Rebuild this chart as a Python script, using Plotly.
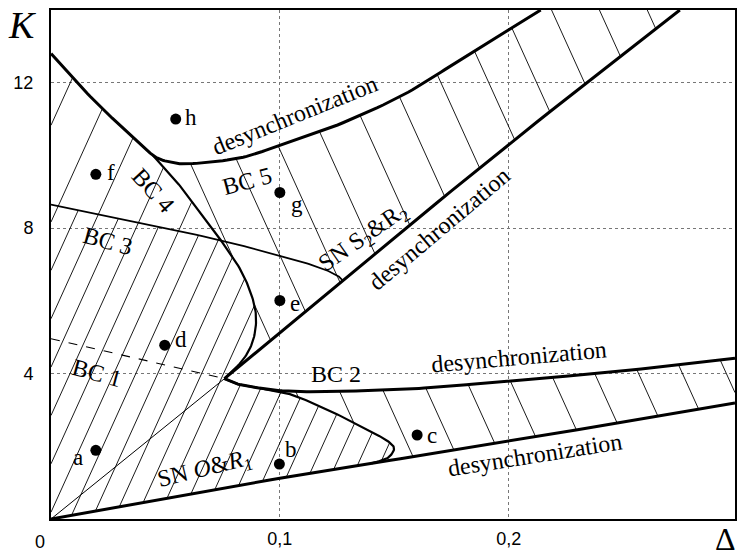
import numpy as np
import plotly.graph_objects as go

# ---------------- data (Delta, K) ----------------
x_max = 0.2989
k_max = 14.0

lower_d = [0.0, 0.05, 0.1, 0.14, 0.2, 0.2989]
lower_k = [0.0, 0.57, 1.12, 1.53, 2.14, 3.19]

upper_d = [0.0, 0.0105, 0.0243, 0.0388, 0.0446, 0.0504, 0.0606, 0.0824, 0.0998, 0.123, 0.152, 0.1739, 0.1956, 0.214]
upper_k = [12.8, 12.06, 11.17, 10.35, 10.0, 9.84, 9.77, 9.93, 10.27, 10.78, 11.6, 12.43, 13.28, 14.0]

diag_d = [0.0758, 0.1274, 0.2, 0.2748]
diag_k = [3.86, 6.56, 10.3, 14.0]

bc2_d = [0.0758, 0.081, 0.091, 0.1, 0.115, 0.143, 0.17, 0.2, 0.245, 0.2989]
bc2_k = [3.86, 3.72, 3.6, 3.53, 3.5, 3.54, 3.63, 3.8, 4.04, 4.42]

sn_d = [0.0758, 0.081, 0.091, 0.1, 0.106, 0.115, 0.126, 0.1405, 0.147, 0.1499, 0.148, 0.1448, 0.14]
sn_k = [3.86, 3.72, 3.6, 3.5, 3.4, 3.17, 2.85, 2.38, 2.15, 1.95, 1.72, 1.62, 1.53]

bc4_d = [0.0446, 0.0533, 0.0606, 0.0678, 0.0743, 0.0824, 0.0874, 0.0896, 0.0883, 0.0838, 0.0758]
bc4_k = [10.0, 9.40, 8.81, 8.21, 7.66, 6.9, 6.2, 5.56, 4.91, 4.37, 3.86]

bc3_d = [0.0, 0.0388, 0.0743, 0.1012, 0.1158, 0.1245, 0.1275]
bc3_k = [8.65, 8.15, 7.66, 7.22, 6.95, 6.72, 6.56]

bc1_d = [0.0, 0.0758]
bc1_k = [4.96, 3.86]

thin_d = [0.0, 0.0758]
thin_k = [0.0, 3.86]

pt_names = ["a", "b", "c", "d", "e", "f", "g", "h"]
pt_d = [0.0196, 0.0998, 0.160, 0.0497, 0.100, 0.0196, 0.100, 0.0545]
pt_k = [1.89, 1.51, 2.31, 4.78, 6.01, 9.48, 8.98, 11.0]
pt_dx = [-18, 12, 15, 16, 15, 15, 17, 15]
pt_dy = [7, -15, 0, -6, 3, -2, 12, -2]

x_ticks = [0.1, 0.2]
x_ticktext = ["0,1", "0,2"]
y_ticks = [4, 8, 12]
y_ticktext = ["4", "8", "12"]

# ---------------- helpers ----------------
N = 12
SX, SY = 2295.0, 36.38  # pixel per unit, used for hatch geometry


def dens(xs, ys, n=N):
    P = np.column_stack([xs, ys]).astype(float)
    if len(P) < 3:
        t = np.linspace(0, 1, n + 1)
        return P[0, 0] + t * (P[1, 0] - P[0, 0]), P[0, 1] + t * (P[1, 1] - P[0, 1])
    Q = np.vstack([2 * P[0] - P[1], P, 2 * P[-1] - P[-2]])
    out = []
    for i in range(1, len(Q) - 2):
        p0, p1, p2, p3 = Q[i - 1], Q[i], Q[i + 1], Q[i + 2]
        for t in np.linspace(0, 1, n, endpoint=False):
            out.append(0.5 * (2 * p1 + (-p0 + p2) * t + (2 * p0 - 5 * p1 + 4 * p2 - p3) * t ** 2
                              + (-p0 + 3 * p1 - 3 * p2 + p3) * t ** 3))
    out.append(P[-1])
    out = np.array(out)
    return out[:, 0], out[:, 1]


def hatch(px, py, slope, spacing, offset):
    X = np.asarray(px) * SX
    Y = np.asarray(py) * SY
    Xc = np.append(X, X[0])
    Yc = np.append(Y, Y[0])
    vals = Yc - slope * Xc
    step = spacing * abs(slope)
    k0 = int(np.ceil((vals.min() - offset) / step))
    k1 = int(np.floor((vals.max() - offset) / step))
    sx, sy = [], []
    for k in range(k0, k1 + 1):
        c = offset + k * step
        s = vals - c
        pts = []
        for i in range(len(s) - 1):
            s1, s2 = s[i], s[i + 1]
            if (s1 > 0) != (s2 > 0):
                t = s1 / (s1 - s2)
                pts.append((Xc[i] + t * (Xc[i + 1] - Xc[i]), Yc[i] + t * (Yc[i + 1] - Yc[i])))
        pts.sort()
        for j in range(0, len(pts) - 1, 2):
            sx += [pts[j][0] / SX, pts[j + 1][0] / SX, None]
            sy += [pts[j][1] / SY, pts[j + 1][1] / SY, None]
    return sx, sy


Ld, Lk = dens(lower_d, lower_k); iL = 3 * N
Ud, Uk = dens(upper_d, upper_k); iJ = 4 * N
B4d, B4k = dens(bc4_d, bc4_k); iX4 = 4 * N
B3d, B3k = dens(bc3_d, bc3_k); iX3 = 2 * N
Sd, Sk = dens(sn_d, sn_k)
Dd, Dk = dens(diag_d, diag_k)
Cd, Ck = dens(bc2_d, bc2_k)
B1d, B1k = dens(bc1_d, bc1_k)
Td, Tk = dens(thin_d, thin_k)

# regions
A_d = np.concatenate([Ld[:iL + 1], Sd[::-1], B4d[::-1], Ud[:iJ + 1][::-1]])
A_k = np.concatenate([Lk[:iL + 1], Sk[::-1], B4k[::-1], Uk[:iJ + 1][::-1]])
Al_d = np.concatenate([Ld[:iL + 1], Sd[::-1], B4d[iX4:][::-1], B3d[:iX3 + 1][::-1]])
Al_k = np.concatenate([Lk[:iL + 1], Sk[::-1], B4k[iX4:][::-1], B3k[:iX3 + 1][::-1]])
B5_d = np.concatenate([Ud[iJ:], Dd[::-1], B4d[::-1]])
B5_k = np.concatenate([Uk[iJ:], Dk[::-1], B4k[::-1]])
B2_d = np.concatenate([Cd, Ld[iL:][::-1], Sd[::-1]])
B2_k = np.concatenate([Ck, Lk[iL:][::-1], Sk[::-1]])

fig = go.Figure()

hatch_style = dict(mode="lines", line=dict(color="black", width=0.9), hoverinfo="skip", showlegend=False)
sparse = 44.0
hx, hy = hatch(A_d, A_k, 2.2, sparse, 394.0)
fig.add_trace(go.Scatter(x=hx, y=hy, **hatch_style))
hx, hy = hatch(Al_d, Al_k, 2.2, sparse, 394.0 + sparse * 2.2 / 2)
fig.add_trace(go.Scatter(x=hx, y=hy, **hatch_style))
hx, hy = hatch(B5_d, B5_k, -2.2, 48.0, 1613.7)
fig.add_trace(go.Scatter(x=hx, y=hy, **hatch_style))
hx, hy = hatch(B2_d, B2_k, -2.2, 44.0, 958.0)
fig.add_trace(go.Scatter(x=hx, y=hy, **hatch_style))


def curve(x, y, w, dash="solid"):
    fig.add_trace(go.Scatter(x=x, y=y, mode="lines", line=dict(color="black", width=w, dash=dash),
                             hoverinfo="skip", showlegend=False))


curve(Td, Tk, 1.0)
curve(B1d, B1k, 1.1, "dash")
curve(B3d, B3k, 1.8)
curve(B4d, B4k, 2.2)
curve(Sd, Sk, 2.2)
curve(Cd, Ck, 3.0)
curve(Ld, Lk, 3.0)
curve(Ud, Uk, 3.0)
curve(Dd, Dk, 3.0)

fig.add_trace(go.Scatter(x=pt_d, y=pt_k, mode="markers", marker=dict(color="black", size=11),
                         hoverinfo="skip", showlegend=False))

serif = "Liberation Serif"
sans = "Liberation Sans"
ann = []
for n, d, k, dx, dy in zip(pt_names, pt_d, pt_k, pt_dx, pt_dy):
    ann.append(dict(x=d, y=k, text=n, showarrow=False, xshift=dx, yshift=-dy,
                    xanchor="center", yanchor="middle",
                    font=dict(family=serif, size=23, color="black")))

labels = [
    ("desynchronization", 0.1068, 11.10, -22),
    ("desynchronization", 0.1695, 7.99, -40),
    ("desynchronization", 0.2044, 4.45, -5),
    ("desynchronization", 0.2113, 1.75, -9),
    ("BC 5", 0.0858, 9.31, -15),
    ("BC 4", 0.0444, 9.04, 48),
    ("BC 3", 0.0248, 7.66, 15),
    ("BC 1", 0.0200, 4.01, 15),
    ("BC 2", 0.1246, 3.98, 0),
    ("SN <i>O</i>&amp;<i>R</i><sub>1</sub>", 0.0671, 1.34, -14),
    ("SN S<sub>2</sub>&amp;R<sub>2</sub>", 0.1368, 7.72, -35),
]
for t, d, k, a in labels:
    ann.append(dict(x=d, y=k, text=t, textangle=a, showarrow=False,
                    xanchor="center", yanchor="middle",
                    font=dict(family=serif, size=24, color="black")))

ann.append(dict(x=0, y=0, text="0", showarrow=False, xshift=-11, yshift=-23,
                xanchor="center", yanchor="middle",
                font=dict(family=sans, size=18, color="black")))
ann.append(dict(xref="paper", yref="paper", x=0, y=1, text="<i>K</i>", showarrow=False,
                xanchor="center", yanchor="middle",
                xshift=-29, yshift=-15, font=dict(family=serif, size=38, color="black")))
ann.append(dict(xref="paper", yref="paper", x=1, y=0, text="Δ", showarrow=False,
                xanchor="center", yanchor="bottom", borderpad=0,
                xshift=-10, yshift=-39, font=dict(family=serif, size=32, color="black")))

axis_common = dict(showline=True, linecolor="black", linewidth=2, mirror=True, ticks="",
                   showgrid=True, gridcolor="#777777", gridwidth=1, griddash="dot", zeroline=False,
                   tickfont=dict(family=sans, size=18, color="black"))

fig.update_layout(
    width=738, height=559,
    margin=dict(l=51, r=1, t=10, b=40),
    paper_bgcolor="white", plot_bgcolor="white",
    xaxis=dict(range=[0, x_max], tickvals=x_ticks, ticktext=x_ticktext, ticklabelstandoff=2, **axis_common),
    yaxis=dict(range=[0, k_max], tickvals=y_ticks, ticktext=y_ticktext, ticklabelstandoff=12, **axis_common),
    annotations=ann,
    showlegend=False,
)

fig.write_html("out.html")
